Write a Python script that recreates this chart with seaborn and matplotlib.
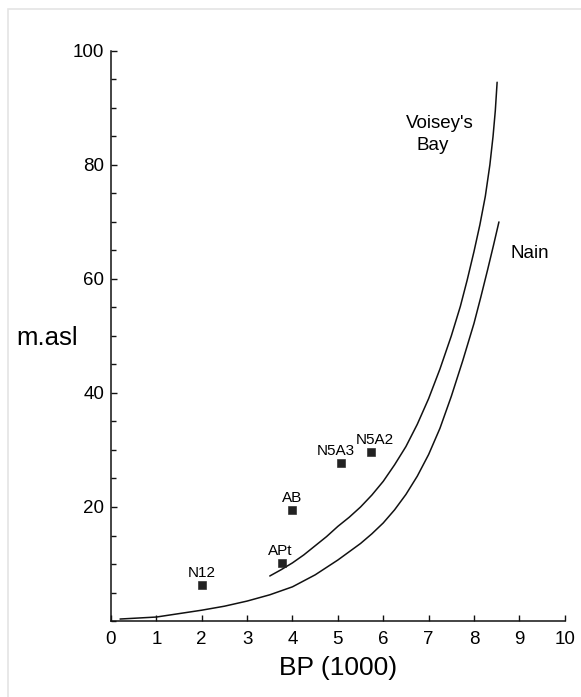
import pandas as pd
import numpy as np
import seaborn as sns
import matplotlib.pyplot as plt
from matplotlib.ticker import MultipleLocator
from matplotlib.patches import Rectangle

# Dated sample points (BP in thousands, metres above sea level)
site_names = ['N12', 'APt', 'AB', 'N5A3', 'N5A2']
site_bp = [2.0, 3.77, 4.0, 5.08, 5.73]
site_masl = [6.4, 10.2, 19.5, 27.8, 29.6]

# Relative sea-level curves
voisey_bp = [3.50, 3.75, 4.00, 4.25, 4.50, 4.75, 5.00, 5.25, 5.50, 5.75, 6.00, 6.25,
             6.50, 6.75, 7.00, 7.25, 7.50, 7.70, 7.85, 8.00, 8.13, 8.25, 8.35, 8.42, 8.47, 8.51]
voisey_masl = [7.9, 9.0, 10.2, 11.6, 13.2, 14.8, 16.6, 18.2, 20.0, 22.1, 24.5, 27.4,
               30.6, 34.5, 39.0, 44.2, 50.0, 55.2, 59.8, 64.8, 69.5, 74.5, 80.0, 85.0, 89.5, 94.5]

nain_bp = [0.20, 1.00, 2.00, 2.50, 3.00, 3.50, 4.00, 4.50, 5.00, 5.50, 5.75, 6.00, 6.25,
           6.50, 6.75, 7.00, 7.25, 7.50, 7.75, 8.00, 8.15, 8.30, 8.43, 8.55]
nain_masl = [0.35, 0.7, 1.9, 2.6, 3.5, 4.6, 6.0, 8.1, 10.7, 13.6, 15.3, 17.2, 19.5,
             22.2, 25.4, 29.2, 33.8, 39.4, 45.6, 52.2, 56.8, 61.6, 65.9, 70.0]

sites = pd.DataFrame({'name': site_names, 'bp': site_bp, 'masl': site_masl})
voisey = pd.DataFrame({'bp': voisey_bp, 'masl': voisey_masl})
nain = pd.DataFrame({'bp': nain_bp, 'masl': nain_masl})

sns.set_style('ticks')
plt.rcParams['font.family'] = ['Liberation Sans', 'DejaVu Sans']
plt.rcParams['text.color'] = 'black'
plt.rcParams['xtick.color'] = 'black'
plt.rcParams['ytick.color'] = 'black'
plt.rcParams['axes.labelcolor'] = 'black'

fig = plt.figure(figsize=(5.81, 6.97), dpi=100)
ax = fig.add_axes([0.191, 0.109, 0.781, 0.818])

sns.lineplot(data=voisey, x='bp', y='masl', sort=False, estimator=None,
             color='#111111', linewidth=1.1, ax=ax)
sns.lineplot(data=nain, x='bp', y='masl', sort=False, estimator=None,
             color='#111111', linewidth=1.1, ax=ax)
sns.scatterplot(data=sites, x='bp', y='masl', marker='s', s=28,
                color='#222222', edgecolor='#222222', ax=ax, zorder=3)

# labels above the points
label_dx = {'N12': 0, 'APt': -1, 'AB': 0, 'N5A3': -4, 'N5A2': 3}
for _, r in sites.iterrows():
    ax.annotate(r['name'], (r['bp'], r['masl']), xytext=(label_dx[r['name']], 3.5),
                textcoords='offset points', ha='center', va='bottom', fontsize=11)

ax.text(7.25, 87.3, "Voisey's", fontsize=13.5, ha='center', va='center')
ax.text(7.09, 83.4, "Bay", fontsize=13.5, ha='center', va='center')
ax.text(9.23, 64.4, "Nain", fontsize=13.5, ha='center', va='center')

ax.set_xlim(0, 10)
ax.set_ylim(0, 100)
ax.set_xticks(range(0, 11))
ax.set_yticks([20, 40, 60, 80, 100])
ax.yaxis.set_minor_locator(MultipleLocator(5))
ax.tick_params(axis='both', which='both', direction='in', color='#111111')
ax.tick_params(axis='x', which='major', length=4, width=1, pad=7, labelsize=13.5)
ax.tick_params(axis='y', which='major', length=4, width=1, pad=5, labelsize=13.5)
ax.tick_params(axis='y', which='minor', length=3.5, width=1)

ax.set_xlabel('BP (1000)', fontsize=19, labelpad=6)
ax.set_ylabel('m.asl', fontsize=18.5, rotation=0, ha='center', va='center')
ax.yaxis.set_label_coords(-0.14, 0.496)

sns.despine(ax=ax)
for sp in ['left', 'bottom']:
    ax.spines[sp].set_linewidth(1.1)
    ax.spines[sp].set_color('#111111')

# faint scan frame
fig.patches.append(Rectangle((0.014, -0.01), 1.0, 0.997, transform=fig.transFigure,
                             fill=False, edgecolor='#e4e4e4', linewidth=1.2))

fig.savefig('out.png', dpi=100, facecolor='white')
